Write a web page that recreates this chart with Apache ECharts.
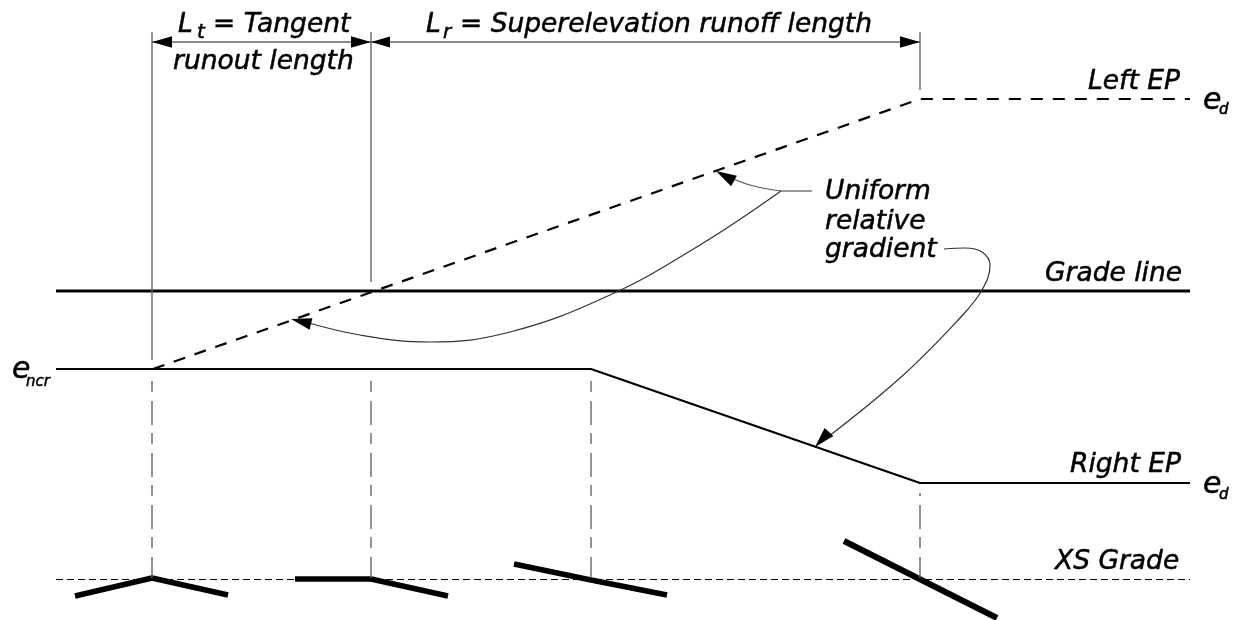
<!DOCTYPE html>
<html>
<head>
<meta charset="utf-8">
<style>
  html, body { margin: 0; padding: 0; background: #fff; }
  #chart { width: 1237px; height: 620px; }
</style>
<script src="https://cdn.jsdelivr.net/npm/echarts@6/dist/echarts.min.js"></script>
</head>
<body>
<div id="chart"></div>
<script>
// profile lines
const gradeLine = [[56, 291], [1190, 291]];
const leftEP = [[153, 369], [920, 99], [1190, 99]];
const rightEP = [[56, 369], [591, 369], [920, 483], [1190, 483]];
const xsGrade = [[56, 579.5], [1190, 579.5]];

// cross-section sketches along the xs grade
const section1 = [[75, 596], [152, 578], [228, 595]];
const section2 = [[295, 579], [371, 579], [448, 596]];
const section3 = [[514, 564], [591, 580], [667, 595]];
const section4 = [[844, 541], [997, 618]];

// station lines above and below the profile
const stationsSolid = [
  [[152, 32], [152, 360]],
  [[371, 32], [371, 282]],
  [[920, 32], [920, 90]]
];
const stationsDashed = [
  [[152, 381], [152, 578]],
  [[371, 381], [371, 578]],
  [[591, 381], [591, 578]]
];
const stationRightDashed = [[920, 493], [920, 578]];
const dimensionLine = [[152, 42], [920, 42]];

// leader curves
const leaderText = [[812, 191], [781, 191]];
const leaderUpper = [[781, 191], [750, 185], [722, 174]];
const leaderLower = [[781, 191], [700, 245], [610, 295], [510, 332], [430, 342], [360, 335], [302, 321]];
const leaderRight = [[944, 249], [965, 248], [982, 252], [990, 265], [982, 290], [960, 318], [900, 378], [820, 443]];

// arrow heads: tip x, tip y, tail x, tail y
const arrowHeads = [
  [152, 42, 172, 42],
  [371, 42, 351, 42],
  [371, 42, 390, 42],
  [920, 42, 900, 42],
  [716, 171, 734, 181],
  [291, 319, 311, 324],
  [815, 447, 829, 432]
];

// text, left x, middle y, font size
const labelText = ['L', 't', '= Tangent', 'runout length', 'L', 'r', '= Superelevation runoff length',
  'Left EP', 'e', 'd', 'Uniform', 'relative', 'gradient', 'Grade line', 'e', 'ncr', 'Right EP', 'e', 'd', 'XS Grade'];
const labelX = [178, 197, 213, 173, 426, 443, 460, 1088, 1203, 1219, 825, 825, 825, 1045, 12, 26, 1070, 1203, 1219, 1055];
const labelY = [25, 33, 25, 62, 25, 33, 25, 82, 101, 110.5, 192, 222, 250, 274, 370, 382.5, 465, 485, 495.5, 562];
const labelSize = [26.5, 20, 26.5, 26.5, 26.5, 20, 26.5, 26.5, 30, 15, 26.5, 26.5, 26.5, 26.5, 30, 15, 26.5, 30, 15, 26.5];

function lineSeries(points, color, width, dash, smooth, dashOffset) {
  return {
    type: 'line',
    data: points,
    showSymbol: false,
    silent: true,
    smooth: smooth || false,
    lineStyle: {
      color: color,
      width: width,
      type: dash || 'solid',
      dashOffset: dashOffset || 0,
      cap: 'butt'
    },
    z: 2
  };
}

const stationDash = [11, 9, 24, 8];

const series = [];
series.push(lineSeries(gradeLine, '#000', 3));
series.push(lineSeries(leftEP, '#000', 2.2, [12, 10]));
series.push(lineSeries(rightEP, '#000', 2.2));
series.push(lineSeries(xsGrade, '#000', 1, [7, 4]));
[section1, section2, section3].forEach(function (s) {
  series.push(lineSeries(s, '#000', 5.5));
});
series.push(lineSeries(section4, '#000', 6));
stationsSolid.forEach(function (s) {
  series.push(lineSeries(s, '#666', 1.4));
});
stationsDashed.forEach(function (s) {
  series.push(lineSeries(s, '#666', 1.4, stationDash));
});
series.push(lineSeries(stationRightDashed, '#666', 1.4, stationDash, false, 8));
series.push(lineSeries(dimensionLine, '#666', 1.4));
series.push(lineSeries(leaderText, '#555', 1.2));
series.push(lineSeries(leaderUpper, '#555', 1.2, null, 0.4));
series.push(lineSeries(leaderLower, '#333', 1.2, null, 0.4));
series.push(lineSeries(leaderRight, '#333', 1.2, null, 0.4));

// barbed arrow heads, placed through the axes
series.push({
  type: 'custom',
  silent: true,
  data: arrowHeads,
  z: 3,
  renderItem: function (params, api) {
    const tip = api.coord([api.value(0), api.value(1)]);
    const tail = api.coord([api.value(2), api.value(3)]);
    const dx = tail[0] - tip[0];
    const dy = tail[1] - tip[1];
    const half = 0.29;
    return {
      type: 'polygon',
      shape: {
        points: [
          tip,
          [tail[0] - dy * half, tail[1] + dx * half],
          [tail[0] + dy * half, tail[1] - dx * half]
        ]
      },
      style: { fill: '#000' }
    };
  },
  encode: { x: 0, y: 1 }
});

// scatter defaults to 0.8 opacity and the labels pick that up
series.push({
  type: 'scatter',
  silent: true,
  symbolSize: 0,
  z: 4,
  itemStyle: { opacity: 1 },
  data: labelText.map(function (t, i) {
    return {
      value: [labelX[i], labelY[i]],
      label: {
        show: true,
        position: 'right',
        distance: 0,
        formatter: t,
        color: '#000',
        opacity: 1,
        fontFamily: 'DejaVu Sans',
        fontStyle: 'italic',
        fontSize: labelSize[i],
        textBorderColor: '#000',
        textBorderWidth: 0.5
      }
    };
  })
});

const chart = echarts.init(document.getElementById('chart'), null, { renderer: 'canvas' });
chart.setOption({
  animation: false,
  backgroundColor: '#fff',
  grid: { left: 0, right: 0, top: 0, bottom: 0 },
  xAxis: { type: 'value', min: 0, max: 1237, show: false },
  yAxis: { type: 'value', min: 0, max: 620, inverse: true, show: false },
  series: series
});
</script>
</body>
</html>
